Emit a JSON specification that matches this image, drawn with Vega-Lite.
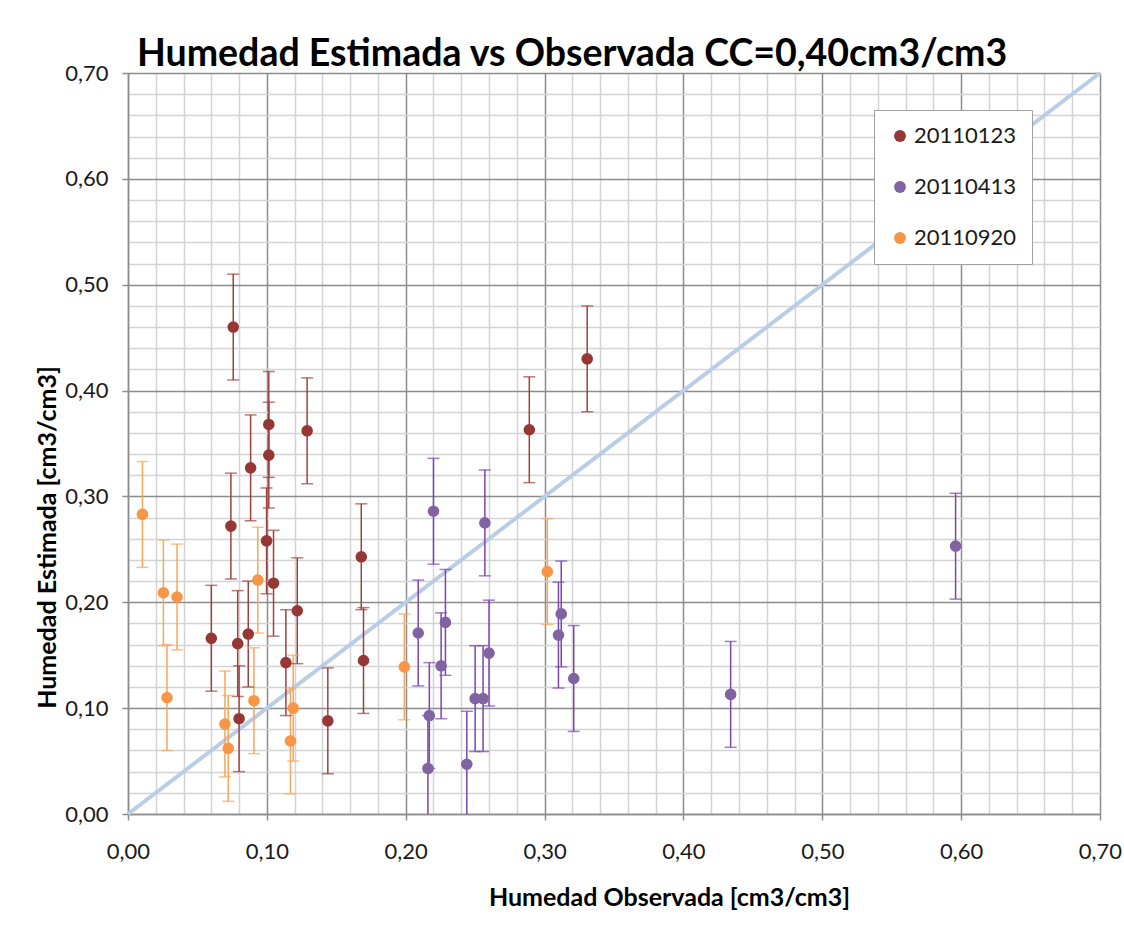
{
  "$schema": "https://vega.github.io/schema/vega-lite/v6.json",
  "width": 972,
  "height": 741,
  "autosize": "none",
  "padding": {"left": 128, "top": 73, "right": 24, "bottom": 111},
  "background": "white",
  "title": {
    "text": "Humedad Estimada vs Observada CC=0,40cm3/cm3",
    "anchor": "start",
    "frame": "group",
    "dx": 9,
    "dy": 48,
    "offset": 7,
    "baseline": "alphabetic",
    "font": "Lato",
    "fontSize": 37.5,
    "fontWeight": "bold",
    "color": "#000000"
  },
  "config": {
    "view": {"stroke": null},
    "axis": {
      "labelFont": "Lato",
      "labelFontSize": 22,
      "labelColor": "#1a1a1a",
      "titleFont": "Lato",
      "titleFontSize": 25,
      "titleFontWeight": "bold",
      "titleColor": "#000000",
      "domainColor": "#8c8c8c",
      "domainWidth": 1.5,
      "gridWidth": 1.5,
      "tickWidth": 1.5,
      "tickSize": 6,
      "tickCount": 200
    }
  },
  "datasets": {
    "puntos": [
      {"fecha": "20110123", "obs": 0.0758, "est": 0.460, "lo": 0.410, "hi": 0.510},
      {"fecha": "20110123", "obs": 0.0741, "est": 0.272, "lo": 0.222, "hi": 0.322},
      {"fecha": "20110123", "obs": 0.0883, "est": 0.327, "lo": 0.277, "hi": 0.377},
      {"fecha": "20110123", "obs": 0.1014, "est": 0.368, "lo": 0.318, "hi": 0.418},
      {"fecha": "20110123", "obs": 0.1014, "est": 0.339, "lo": 0.289, "hi": 0.389},
      {"fecha": "20110123", "obs": 0.0998, "est": 0.258, "lo": 0.208, "hi": 0.308},
      {"fecha": "20110123", "obs": 0.1048, "est": 0.218, "lo": 0.168, "hi": 0.268},
      {"fecha": "20110123", "obs": 0.0600, "est": 0.166, "lo": 0.116, "hi": 0.216},
      {"fecha": "20110123", "obs": 0.0790, "est": 0.161, "lo": 0.111, "hi": 0.211},
      {"fecha": "20110123", "obs": 0.0866, "est": 0.170, "lo": 0.120, "hi": 0.220},
      {"fecha": "20110123", "obs": 0.0800, "est": 0.090, "lo": 0.040, "hi": 0.140},
      {"fecha": "20110123", "obs": 0.1137, "est": 0.143, "lo": 0.093, "hi": 0.193},
      {"fecha": "20110123", "obs": 0.1219, "est": 0.192, "lo": 0.142, "hi": 0.242},
      {"fecha": "20110123", "obs": 0.1290, "est": 0.362, "lo": 0.312, "hi": 0.412},
      {"fecha": "20110123", "obs": 0.1439, "est": 0.088, "lo": 0.038, "hi": 0.138},
      {"fecha": "20110123", "obs": 0.1680, "est": 0.243, "lo": 0.193, "hi": 0.293},
      {"fecha": "20110123", "obs": 0.1696, "est": 0.145, "lo": 0.095, "hi": 0.195},
      {"fecha": "20110123", "obs": 0.2890, "est": 0.363, "lo": 0.313, "hi": 0.413},
      {"fecha": "20110123", "obs": 0.3307, "est": 0.430, "lo": 0.380, "hi": 0.480},
      {"fecha": "20110413", "obs": 0.2200, "est": 0.286, "lo": 0.236, "hi": 0.336},
      {"fecha": "20110413", "obs": 0.2570, "est": 0.275, "lo": 0.225, "hi": 0.325},
      {"fecha": "20110413", "obs": 0.2090, "est": 0.171, "lo": 0.121, "hi": 0.221},
      {"fecha": "20110413", "obs": 0.2286, "est": 0.181, "lo": 0.131, "hi": 0.231},
      {"fecha": "20110413", "obs": 0.2255, "est": 0.140, "lo": 0.090, "hi": 0.190},
      {"fecha": "20110413", "obs": 0.2600, "est": 0.152, "lo": 0.102, "hi": 0.202},
      {"fecha": "20110413", "obs": 0.2170, "est": 0.093, "lo": 0.043, "hi": 0.143},
      {"fecha": "20110413", "obs": 0.2160, "est": 0.043, "lo": -0.007, "hi": 0.093},
      {"fecha": "20110413", "obs": 0.2440, "est": 0.047, "lo": -0.003, "hi": 0.097},
      {"fecha": "20110413", "obs": 0.2500, "est": 0.109, "lo": 0.059, "hi": 0.159},
      {"fecha": "20110413", "obs": 0.2557, "est": 0.109, "lo": 0.059, "hi": 0.159},
      {"fecha": "20110413", "obs": 0.3120, "est": 0.189, "lo": 0.139, "hi": 0.239},
      {"fecha": "20110413", "obs": 0.3100, "est": 0.169, "lo": 0.119, "hi": 0.219},
      {"fecha": "20110413", "obs": 0.3210, "est": 0.128, "lo": 0.078, "hi": 0.178},
      {"fecha": "20110413", "obs": 0.4340, "est": 0.113, "lo": 0.063, "hi": 0.163},
      {"fecha": "20110413", "obs": 0.5960, "est": 0.253, "lo": 0.203, "hi": 0.303},
      {"fecha": "20110920", "obs": 0.0104, "est": 0.283, "lo": 0.233, "hi": 0.333},
      {"fecha": "20110920", "obs": 0.0255, "est": 0.209, "lo": 0.159, "hi": 0.259},
      {"fecha": "20110920", "obs": 0.0353, "est": 0.205, "lo": 0.155, "hi": 0.255},
      {"fecha": "20110920", "obs": 0.0281, "est": 0.110, "lo": 0.060, "hi": 0.160},
      {"fecha": "20110920", "obs": 0.0935, "est": 0.221, "lo": 0.171, "hi": 0.271},
      {"fecha": "20110920", "obs": 0.0907, "est": 0.107, "lo": 0.057, "hi": 0.157},
      {"fecha": "20110920", "obs": 0.1190, "est": 0.100, "lo": 0.050, "hi": 0.150},
      {"fecha": "20110920", "obs": 0.0698, "est": 0.085, "lo": 0.035, "hi": 0.135},
      {"fecha": "20110920", "obs": 0.0722, "est": 0.062, "lo": 0.012, "hi": 0.112},
      {"fecha": "20110920", "obs": 0.1170, "est": 0.069, "lo": 0.019, "hi": 0.119},
      {"fecha": "20110920", "obs": 0.1990, "est": 0.139, "lo": 0.089, "hi": 0.189},
      {"fecha": "20110920", "obs": 0.3020, "est": 0.229, "lo": 0.179, "hi": 0.279}
    ],
    "linea": [
      {"obs": 0.0, "est": 0.0},
      {"obs": 0.7, "est": 0.7}
    ]
  },
  "layer": [
    {
      "data": {"name": "linea"},
      "mark": {"type": "line", "color": "#b9cde5", "strokeWidth": 4, "clip": false},
      "encoding": {
        "x": {
          "field": "obs",
          "type": "quantitative",
          "scale": {"domain": [0, 0.7], "nice": false},
          "axis": {
            "values": [0, 0.02, 0.04, 0.06, 0.08, 0.1, 0.12, 0.14, 0.16, 0.18, 0.2, 0.22, 0.24, 0.26, 0.28, 0.3, 0.32, 0.34, 0.36, 0.38, 0.4, 0.42, 0.44, 0.46, 0.48, 0.5, 0.52, 0.54, 0.56, 0.58, 0.6, 0.62, 0.64, 0.66, 0.68, 0.7],
            "tickCount": 200,
            "title": "Humedad Observada [cm3/cm3]",
            "labelExpr": "round(datum.value*100)%10===0 ? replace(format(datum.value,'.2f'),'.',',') : ''",
            "labelPadding": 21,
            "labelOverlap": false,
            "labelFlush": false,
            "grid": true,
            "gridColor": {"condition": {"test": "round(datum.value*100)%10===0", "value": "#8c8c8c"}, "value": "#d4d4d4"},
            "tickColor": {"condition": {"test": "round(datum.value*100)%10===0", "value": "#8c8c8c"}, "value": "transparent"},
            "titleX": 541,
            "titleY": 83,
            "titleAlign": "center",
            "titleBaseline": "middle"
          }
        },
        "y": {
          "field": "est",
          "type": "quantitative",
          "scale": {"domain": [0, 0.7], "nice": false},
          "axis": {
            "values": [0, 0.02, 0.04, 0.06, 0.08, 0.1, 0.12, 0.14, 0.16, 0.18, 0.2, 0.22, 0.24, 0.26, 0.28, 0.3, 0.32, 0.34, 0.36, 0.38, 0.4, 0.42, 0.44, 0.46, 0.48, 0.5, 0.52, 0.54, 0.56, 0.58, 0.6, 0.62, 0.64, 0.66, 0.68, 0.7],
            "tickCount": 200,
            "title": "Humedad Estimada  [cm3/cm3]",
            "labelExpr": "round(datum.value*100)%10===0 ? replace(format(datum.value,'.2f'),'.',',') : ''",
            "labelPadding": 14,
            "labelOverlap": false,
            "labelFlush": false,
            "grid": true,
            "gridColor": {"condition": {"test": "round(datum.value*100)%10===0", "value": "#8c8c8c"}, "value": "#d4d4d4"},
            "tickColor": {"condition": {"test": "round(datum.value*100)%10===0", "value": "#8c8c8c"}, "value": "transparent"},
            "titleX": -81,
            "titleY": 464,
            "titleAngle": -90,
            "titleAlign": "center",
            "titleBaseline": "middle"
          }
        }
      }
    },
    {
      "data": {"name": "puntos"},
      "mark": {"type": "rule", "strokeWidth": 1.5, "clip": true},
      "encoding": {
        "x": {"field": "obs", "type": "quantitative"},
        "y": {"field": "lo", "type": "quantitative"},
        "y2": {"field": "hi"},
        "stroke": {
          "field": "fecha", "type": "nominal",
          "scale": {"domain": ["20110123", "20110413", "20110920"], "range": ["#a0403e", "#7b44b4", "#f9a55a"]},
          "legend": null
        }
      }
    },
    {
      "data": {"name": "puntos"},
      "mark": {"type": "tick", "orient": "horizontal", "size": 12, "thickness": 1.5, "clip": true},
      "encoding": {
        "x": {"field": "obs", "type": "quantitative"},
        "y": {"field": "lo", "type": "quantitative"},
        "color": {
          "field": "fecha", "type": "nominal",
          "scale": {"domain": ["20110123", "20110413", "20110920"], "range": ["#a0403e", "#7b44b4", "#f9a55a"]},
          "legend": null
        }
      }
    },
    {
      "data": {"name": "puntos"},
      "mark": {"type": "tick", "orient": "horizontal", "size": 12, "thickness": 1.5, "clip": true},
      "encoding": {
        "x": {"field": "obs", "type": "quantitative"},
        "y": {"field": "hi", "type": "quantitative"},
        "color": {
          "field": "fecha", "type": "nominal",
          "scale": {"domain": ["20110123", "20110413", "20110920"], "range": ["#a0403e", "#7b44b4", "#f9a55a"]},
          "legend": null
        }
      }
    },
    {
      "data": {"name": "puntos"},
      "mark": {"type": "circle", "size": 135, "opacity": 1, "stroke": null},
      "encoding": {
        "x": {"field": "obs", "type": "quantitative"},
        "y": {"field": "est", "type": "quantitative"},
        "fill": {
          "field": "fecha", "type": "nominal",
          "scale": {"domain": ["20110123", "20110413", "20110920"], "range": ["#953735", "#8064a2", "#f79646"]},
          "legend": {
            "title": null,
            "orient": "none",
            "legendX": 746,
            "legendY": 37,
            "padding": 15,
            "fillColor": "white",
            "strokeColor": "#a0a0a0",
            "symbolType": "circle",
            "symbolSize": 140,
            "symbolStrokeWidth": 0,
            "labelFont": "Lato",
            "labelFontSize": 22,
            "labelColor": "#1a1a1a",
            "labelOffset": 3,
            "rowPadding": 29,
            "labelLimit": 200
          }
        }
      }
    }
  ],
  "resolve": {"scale": {"color": "independent", "fill": "independent", "stroke": "independent"}}
}
